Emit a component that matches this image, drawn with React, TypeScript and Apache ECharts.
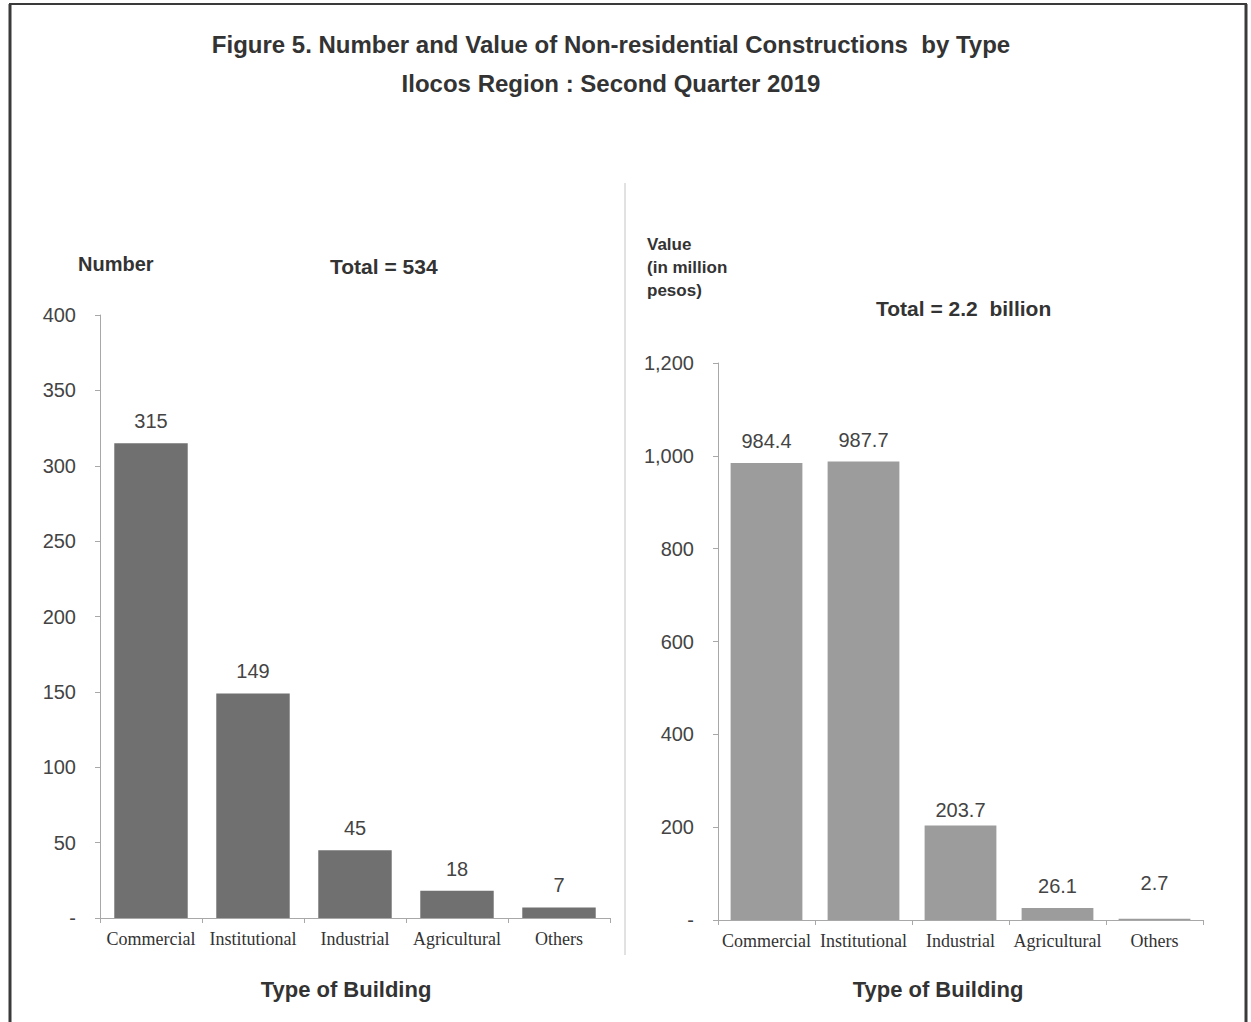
import React, { useEffect, useRef } from "react";
import * as echarts from "echarts";

const categories = ["Commercial", "Institutional", "Industrial", "Agricultural", "Others"];
const numberValues = [315, 149, 45, 18, 7];
const valueValues = [984.4, 987.7, 203.7, 26.1, 2.7];
const leftTicks = { min: 0, max: 400, interval: 50 };
const rightTicks = { min: 0, max: 1200, interval: 200 };
const titleLine1 = "Figure 5. Number and Value of Non-residential Constructions  by Type";
const titleLine2 = "Ilocos Region : Second Quarter 2019";
const leftTotal = "Total = 534";
const rightTotal = "Total = 2.2  billion";
const xTitle = "Type of Building";

const TXT = "#333333";
const AXIS = "#a8a8a8";
const SANS = "'Liberation Sans', Arial, sans-serif";
const SERIF = "'Liberation Serif', 'Times New Roman', serif";

const fmt = (v: number) => (v === 0 ? "-" : v.toLocaleString("en-US"));

// per-bar label distance tweaks (Excel labels were nudged by hand)
const rightLabelDistance = [12, 12, 5, 12, 26];

export default function App() {
  const ref = useRef<HTMLDivElement>(null);
  useEffect(() => {
    if (!ref.current) return;
    const chart = echarts.init(ref.current, null, { renderer: "svg" });
    const yAxisCommon = {
      type: "value" as const,
      splitLine: { show: false },
      axisLine: { show: true, lineStyle: { color: AXIS, width: 1 } },
      axisTick: { show: true, inside: false, length: 5, lineStyle: { color: AXIS } },
      axisLabel: { color: "#444", fontFamily: SANS, fontSize: 20, margin: 24, formatter: fmt },
    };
    const xAxisCommon = {
      type: "category" as const,
      data: categories,
      axisLine: { show: true, lineStyle: { color: AXIS, width: 1 } },
      axisTick: { show: true, inside: false, length: 5, lineStyle: { color: AXIS } },
      axisLabel: { color: TXT, fontFamily: SERIF, fontSize: 18, margin: 12, interval: 0 },
    };
    const labelCommon = {
      show: true,
      position: "top" as const,
      distance: 12,
      color: "#444",
      fontFamily: SANS,
      fontSize: 20,
    };
    const text = (x: number, y: number, t: string, size: number, align = "center", weight = "bold", lh = 0) => ({
      type: "text",
      x,
      y,
      style: {
        text: t,
        fill: TXT,
        font: `${weight} ${size}px ${SANS}`,
        textAlign: align,
        textVerticalAlign: "middle",
        lineHeight: lh || undefined,
      },
    });
    chart.setOption({
      animation: false,
      backgroundColor: "#ffffff",
      grid: [
        { left: 100, right: 641, top: 315, bottom: 104 },
        { left: 718, right: 48, top: 363, bottom: 102 },
      ],
      xAxis: [
        { ...xAxisCommon, gridIndex: 0 },
        { ...xAxisCommon, gridIndex: 1 },
      ],
      yAxis: [
        { ...yAxisCommon, gridIndex: 0, ...leftTicks },
        { ...yAxisCommon, gridIndex: 1, ...rightTicks },
      ],
      series: [
        {
          type: "bar",
          xAxisIndex: 0,
          yAxisIndex: 0,
          data: numberValues,
          barCategoryGap: "28%",
          itemStyle: { color: "#707070" },
          label: { ...labelCommon },
        },
        {
          type: "bar",
          xAxisIndex: 1,
          yAxisIndex: 1,
          data: valueValues.map((v, i) => ({ value: v, label: { distance: rightLabelDistance[i] } })),
          barCategoryGap: "26%",
          itemStyle: { color: "#9c9c9c" },
          label: { ...labelCommon, formatter: (p: any) => Number(p.value).toFixed(1) },
        },
      ],
      graphic: [
        { type: "line", shape: { x1: 10, y1: 4, x2: 10, y2: 1022 }, style: { stroke: "#3a3a3a", lineWidth: 3 } },
        { type: "line", shape: { x1: 9, y1: 4, x2: 1247, y2: 4 }, style: { stroke: "#3a3a3a", lineWidth: 2 } },
        { type: "line", shape: { x1: 1246, y1: 4, x2: 1246, y2: 1022 }, style: { stroke: "#3a3a3a", lineWidth: 3 } },
        { type: "line", shape: { x1: 625, y1: 183, x2: 625, y2: 955 }, style: { stroke: "#c4c4c4", lineWidth: 1 } },
        text(611, 44, titleLine1, 24),
        text(611, 83, titleLine2, 24),
        text(78, 264, "Number", 20, "left"),
        text(330, 266, leftTotal, 21, "left"),
        text(647, 267, "Value\n(in million\npesos)", 17, "left", "bold", 23),
        text(876, 308, rightTotal, 21, "left"),
        text(346, 989, xTitle, 22),
        text(938, 989, xTitle, 22),
      ],
    });
    return () => chart.dispose();
  }, []);
  return (
    <div
      ref={ref}
      style={{ position: "absolute", left: 0, top: 0, width: 1251, height: 1022, background: "#fff" }}
    />
  );
}
